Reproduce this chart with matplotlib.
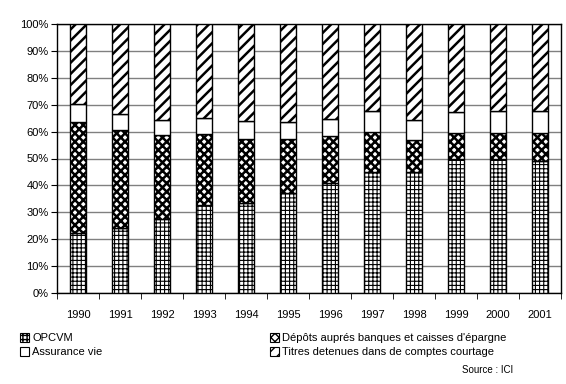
import numpy as np
import matplotlib
matplotlib.use('Agg')
import matplotlib.pyplot as plt
from matplotlib.patches import Patch

plt.rcParams['font.family'] = ['Liberation Sans', 'DejaVu Sans']

years = ['1990', '1991', '1992', '1993', '1994', '1995',
         '1996', '1997', '1998', '1999', '2000', '2001']
# segment heights (%)
opcvm = [22.4, 24.2, 27.5, 32.7, 33.3, 37.3, 40.8, 45.1, 45.1, 49.7, 49.7, 49.1]
depots = [41.3, 36.3, 31.3, 26.3, 23.8, 19.8, 17.6, 14.7, 11.8, 9.7, 9.7, 10.3]
assurance = [6.5, 6.0, 5.5, 6.0, 6.8, 6.4, 6.3, 7.8, 7.3, 7.8, 8.2, 8.2]
titres = [100 - a - b - c for a, b, c in zip(opcvm, depots, assurance)]

labels = ['OPCVM', 'Dépôts auprés banques et caisses d\'épargne',
          'Assurance vie', 'Titres detenues dans de comptes courtage']

fig = plt.figure(figsize=(5.66, 3.84), dpi=100)
ax = fig.add_axes([57 / 566, 1 - 293 / 384, 504 / 566, 269 / 384])

x = np.arange(len(years))
w = 0.4
ax.set_axisbelow(True)
ax.yaxis.grid(True, color='#808080', lw=1)

# (hatch, hatch linewidth, values)
styles = [('++++', 0.8, opcvm), ('xxxx', 1.8, depots),
          ('', 1.0, assurance), ('///', 1.8, titres)]
bottom = np.zeros(len(years))
handles = []
for (hatch, hlw, vals), lab in zip(styles, labels):
    with plt.rc_context({'hatch.linewidth': hlw}):
        ax.bar(x, vals, w, bottom=bottom, color='white', edgecolor='black',
               hatch=hatch, lw=1, zorder=3)
        handles.append(Patch(facecolor='white', edgecolor='black', hatch=hatch,
                             lw=0.8, label=lab))
    bottom += np.array(vals)

ax.set_xlim(-0.5, len(years) - 0.5)
ax.set_ylim(0, 100)
ax.set_yticks(np.arange(0, 101, 10))
ax.set_yticklabels([f'{v}%' for v in range(0, 101, 10)])
ax.set_xticks(x)
ax.set_xticklabels(years)
ax.set_xticks(np.arange(-0.5, len(years), 1), minor=True)
ax.tick_params(axis='x', which='major', length=0, pad=12, labelsize=8)
ax.tick_params(axis='x', which='minor', length=4, direction='out')
ax.tick_params(axis='y', length=4, labelsize=8, pad=2)
for s in ax.spines.values():
    s.set_color('black')
    s.set_linewidth(1)

leg_kw = dict(frameon=False, fontsize=8, handlelength=0.8, handleheight=0.8,
              handletextpad=0.3, labelspacing=0.35, borderaxespad=0, borderpad=0)
fig.legend([handles[0], handles[2]], [labels[0], labels[2]], loc='upper left',
           bbox_to_anchor=(20 / 566, 1 - 333 / 384), **leg_kw)
fig.legend([handles[1], handles[3]], [labels[1], labels[3]], loc='upper left',
           bbox_to_anchor=(270 / 566, 1 - 333 / 384), **leg_kw)
fig.text(513 / 566, 1 - 370 / 384, 'Source : ICI', fontsize=7, ha='right', va='center')

fig.savefig('out.png', dpi=100)
